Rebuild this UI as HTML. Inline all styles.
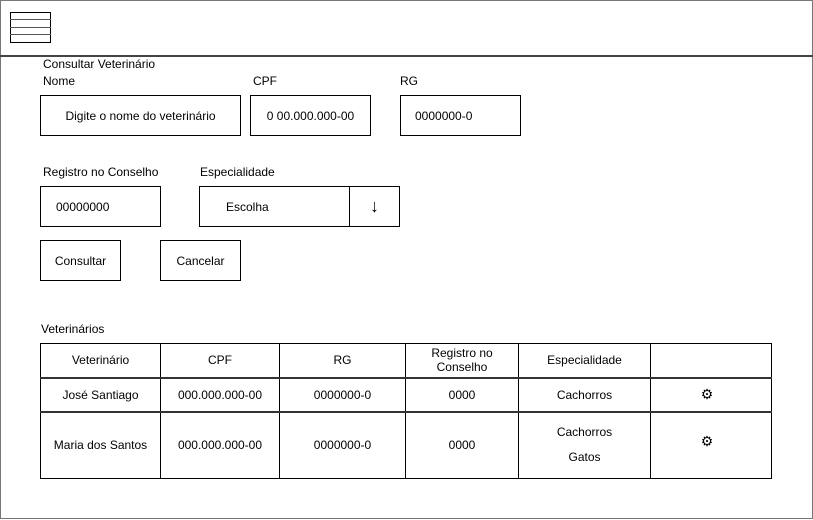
<!DOCTYPE html>
<html><head><meta charset="utf-8"><style>
body{margin:0;width:813px;height:520px;position:relative;background:#fff;font-family:"Liberation Sans",Arial,sans-serif;font-size:12px;color:#000;overflow:hidden}
.a{position:absolute;box-sizing:border-box}
.b{border:1px solid #000;display:flex;align-items:center;justify-content:center}
.t{position:absolute;white-space:nowrap}
table{position:absolute;left:40px;top:343px;border-collapse:collapse;font-size:12px;table-layout:fixed;width:731px}
td{border:1px solid #000;text-align:center;padding:0}
td.h{border-bottom:2px solid #333}
</style></head><body>
<div class="a" style="left:0;top:0;width:813px;height:519px;border:1px solid #777"></div>
<div class="a" style="left:0;top:55px;width:813px;height:2px;background:#444"></div>
<div class="a" style="left:10px;top:12px;width:41px;height:31px;border:1px solid #000"></div>
<div class="a" style="left:10px;top:19px;width:41px;height:1px;background:#555"></div>
<div class="a" style="left:10px;top:27px;width:41px;height:1px;background:#555"></div>
<div class="a" style="left:10px;top:34px;width:41px;height:1px;background:#555"></div>

<div class="t" style="left:43px;top:57px">Consultar Veterinário</div>
<div class="t" style="left:43px;top:74px">Nome</div>
<div class="t" style="left:253px;top:74px">CPF</div>
<div class="t" style="left:400px;top:74px">RG</div>
<div class="a b" style="left:40px;top:95px;width:201px;height:41px">Digite o nome do veterinário</div>
<div class="a b" style="left:250px;top:95px;width:121px;height:41px">0 00.000.000-00</div>
<div class="a b" style="left:400px;top:95px;width:121px;height:41px;justify-content:flex-start;padding-left:14px">0000000-0</div>

<div class="t" style="left:43px;top:165px">Registro no Conselho</div>
<div class="t" style="left:200px;top:165px">Especialidade</div>
<div class="a b" style="left:40px;top:186px;width:121px;height:41px;justify-content:flex-start;padding-left:15px">00000000</div>
<div class="a b" style="left:199px;top:186px;width:151px;height:41px;justify-content:flex-start;padding-left:26px">Escolha</div>
<div class="a b" style="left:349px;top:186px;width:51px;height:41px;font-size:18px;font-weight:bold">&#8595;</div>

<div class="a b" style="left:40px;top:240px;width:81px;height:41px">Consultar</div>
<div class="a b" style="left:160px;top:240px;width:81px;height:41px">Cancelar</div>

<div class="t" style="left:41px;top:322px">Veterinários</div>
<table>
<colgroup><col style="width:120px"><col style="width:119px"><col style="width:126px"><col style="width:113px"><col style="width:132px"><col style="width:121px"></colgroup>
<tr style="height:34px"><td class="h">Veterinário</td><td class="h">CPF</td><td class="h">RG</td><td class="h" style="line-height:14px">Registro no<br>Conselho</td><td class="h">Especialidade</td><td class="h"></td></tr>
<tr style="height:34px"><td class="h">José Santiago</td><td class="h">000.000.000-00</td><td class="h">0000000-0</td><td class="h">0000</td><td class="h">Cachorros</td><td class="h" style="font-size:14px;padding-right:8px">⚙</td></tr>
<tr style="height:67px"><td>Maria dos Santos</td><td>000.000.000-00</td><td>0000000-0</td><td>0000</td><td style="line-height:25px">Cachorros<br>Gatos</td><td style="font-size:14px;padding-right:8px;padding-bottom:8px">⚙</td></tr>
</table>
</body></html>
